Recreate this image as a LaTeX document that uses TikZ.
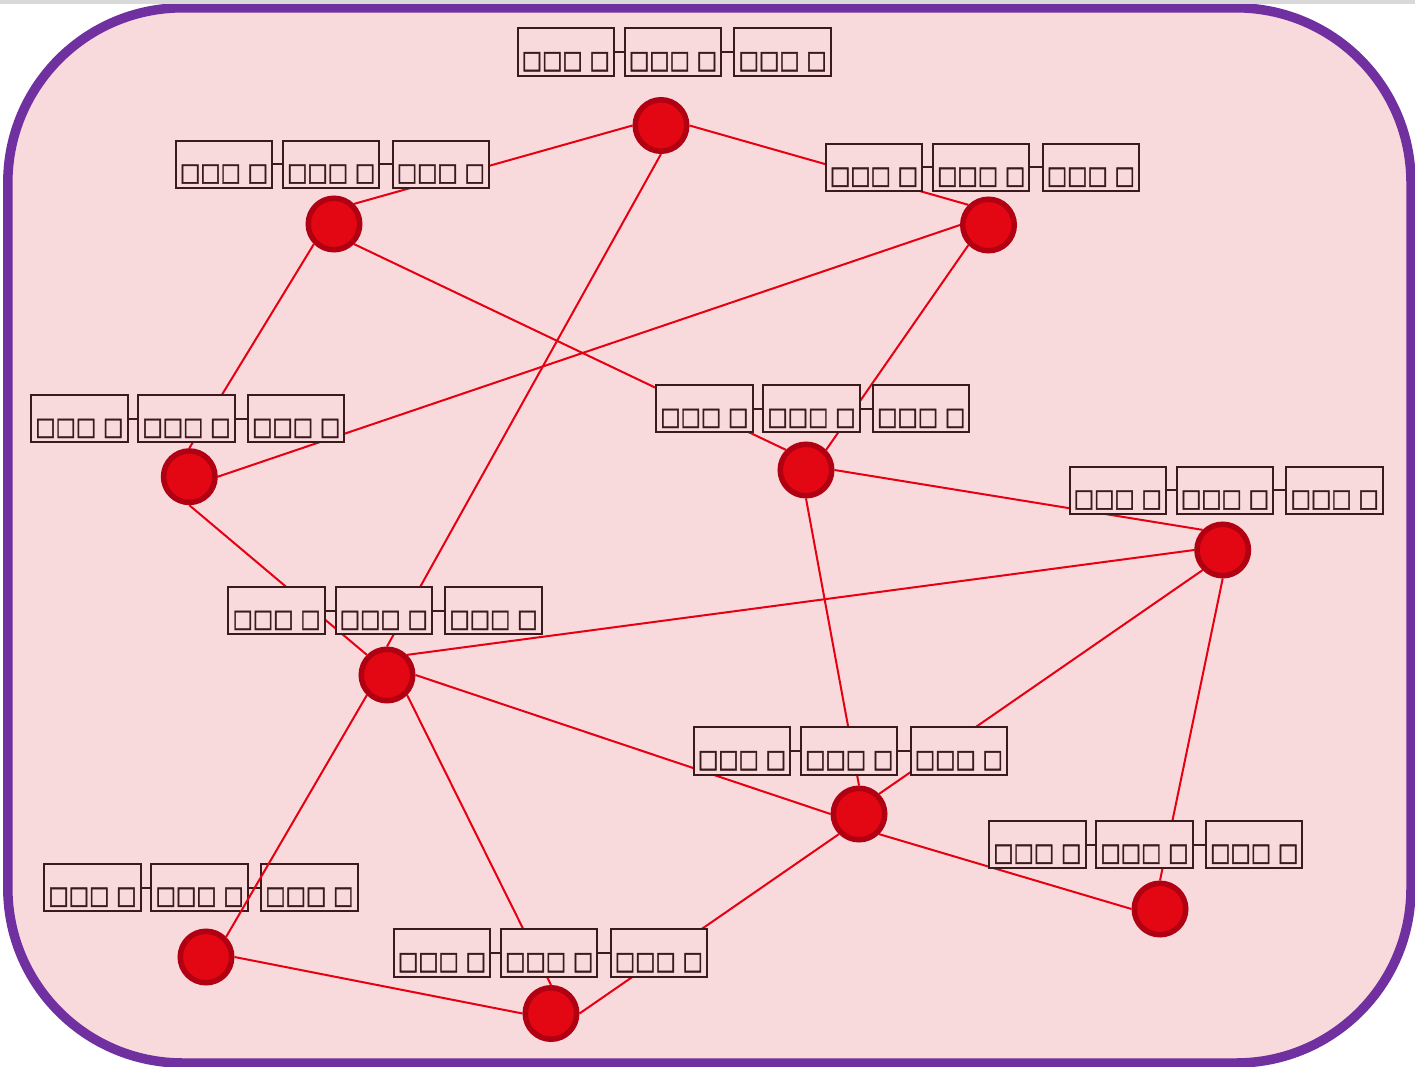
\documentclass[tikz,border=0pt]{standalone}
\usepackage{fontspec}
\usetikzlibrary{positioning}
\newfontfamily\glyphfont[FakeStretch=0.86,FakeBold=1.6]{DejaVu Sans}

\definecolor{framepurple}{RGB}{112,48,160}
\definecolor{canvaspink}{RGB}{248,217,220}
\definecolor{nodered}{RGB}{227,6,19}
\definecolor{noderim}{RGB}{176,0,18}
\definecolor{edgered}{RGB}{230,0,18}
\definecolor{tagink}{RGB}{58,26,28}
\definecolor{topbar}{RGB}{217,217,217}

\pgfdeclarelayer{background}
\pgfdeclarelayer{edges}
\pgfdeclarelayer{tags}
\pgfdeclarelayer{overedges}
\pgfdeclarelayer{foreground}
\pgfsetlayers{background,edges,tags,overedges,main,foreground}

\tikzset{
  frame/.style={line width=9.5pt, draw=framepurple, fill=canvaspink, rounded corners=175pt},
  vertex/.style={circle, fill=nodered, draw=noderim, line width=5.5pt, minimum size=51.5pt, inner sep=0pt},
  link/.style={draw=edgered, line width=2pt},
  tagbox/.style={rectangle, draw=tagink, fill=canvaspink, line width=2pt, inner sep=0pt,
    minimum width=96.5pt, text height=40pt, text depth=7.5pt, text=tagink, font=\glyphfont\fontsize{25}{25}\selectfont},
  taglink/.style={draw=tagink, line width=2pt},
}

% one tag: three boxes in a row joined by short links
\newcommand\tagrow[3]{%
  \node[tagbox] (#1b) at (#2,#3) {□□□ □};
  \node[tagbox, left=8.7pt of #1b] (#1a) {□□□ □};
  \node[tagbox, right=11.2pt of #1b] (#1c) {□□□ □};
  \draw[taglink] (#1a.east) -- (#1b.west);
  \draw[taglink] (#1b.east) -- (#1c.west);
}

\begin{document}
\begin{tikzpicture}[x=1pt,y=-1pt]
\useasboundingbox (0,0) rectangle (1415,1067);

\begin{pgfonlayer}{background}
  \path[frame] (7.8,7.8) rectangle (1411,1063);
\end{pgfonlayer}

% vertices
\node[vertex] (n1)  at (661,125.5) {};
\node[vertex] (n2)  at (334,224) {};
\node[vertex] (n3)  at (988.5,225) {};
\node[vertex] (n4)  at (189.3,476.7) {};
\node[vertex] (n5)  at (806,470) {};
\node[vertex] (n6)  at (1222.7,550) {};
\node[vertex] (n7)  at (387,675) {};
\node[vertex] (n8)  at (859,814) {};
\node[vertex] (n9)  at (1160,909) {};
\node[vertex] (n10) at (206,957) {};
\node[vertex] (n11) at (551,1013.5) {};

% tags
\begin{pgfonlayer}{tags}
  \tagrow{t1}{673}{52}
  \tagrow{t2}{331.2}{164.3}
  \tagrow{t3}{981.2}{167.5}
  \tagrow{t4}{186.5}{418.7}
  \tagrow{t5}{811.5}{408.7}
  \tagrow{t6}{1225}{490.3}
  \tagrow{t7}{383.8}{610.7}
  \tagrow{t8}{849.2}{751}
  \tagrow{t9}{1144.5}{844.5}
  \tagrow{t10}{199.7}{887.5}
  \tagrow{t11}{549.2}{953}
\end{pgfonlayer}

% edges
\begin{pgfonlayer}{edges}
  \draw[link] (n1.west) -- (n2.north east);
  \draw[link] (n1.east) -- (n3.north west);
  \draw[link] (n1.south) -- (n7.north);
  \draw[link] (n2.south west) -- (n4.north);
  \draw[link] (n2.south east) -- (n5.north west);
  \draw[link] (n3.west) -- (n4.east);
  \draw[link] (n3.south west) -- (n5.north east);
  \draw[link] (n4.south) -- (n7.north west);
  \draw[link] (n5.east) -- (n6.north west);
  \draw[link] (n5.south) -- (n8.north);
  \draw[link] (n6.west) -- (n7.north east);
  \draw[link] (n6.south west) -- (n8.north east);
  \draw[link] (n6.south) -- (n9.north);
  \draw[link] (n7.east) -- (n8.west);
  \draw[link] (n7.south east) -- (n11.north);
  \draw[link] (n8.south east) -- (n9.west);
  \draw[link] (n8.south west) -- (n11.east);
  \draw[link] (n10.east) -- (n11.west);
\end{pgfonlayer}
\begin{pgfonlayer}{overedges}
  \draw[link] (n7.south west) -- (n10.north east);
\end{pgfonlayer}

\begin{pgfonlayer}{foreground}
  \fill[topbar] (0,0) rectangle (1415,4.5);
\end{pgfonlayer}
\end{tikzpicture}
\end{document}
